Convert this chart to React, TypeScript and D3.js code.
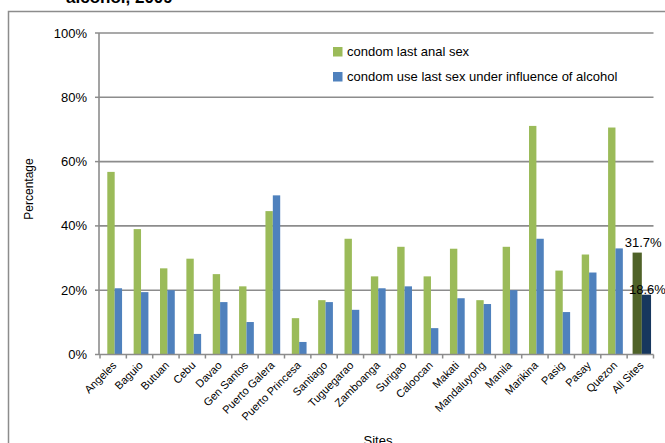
import React from "react";
import * as d3 from "d3";

const sites = ["Angeles","Baguio","Butuan","Cebu","Davao","Gen Santos","Puerto Galera","Puerto Princesa","Santiago","Tuguegarao","Zamboanga","Surigao","Caloocan","Makati","Mandaluyong","Manila","Marikina","Pasig","Pasay","Quezon","All Sites"];
const analSex = [56.8,39.0,26.8,29.8,25.0,21.2,44.6,11.3,16.9,36.0,24.3,33.5,24.3,32.9,16.9,33.5,71.1,26.1,31.1,70.6,31.7];
const alcohol = [20.6,19.4,20.0,6.4,16.3,10.1,49.5,3.9,16.3,13.9,20.6,21.2,8.2,17.5,15.7,20.0,36.0,13.2,25.5,33.0,18.6];
const yTicks = [0,20,40,60,80,100];
const seriesNames = ["condom last anal sex","condom use last sex under influence of alcohol"];
const colors = ["#9bbb59","#4f81bd"];
const totalColors = ["#4f6228","#17375e"];

export default function App() {
  const W = 665, H = 443;
  const x0 = 100, x1 = 653.5;
  const y = d3.scaleLinear().domain([0,100]).range([354.5,33]);
  const x = d3.scaleBand().domain(sites).range([x0,x1]).padding(0);
  const bw = x.bandwidth();
  const font = "Liberation Sans, Arial, sans-serif";
  const grid = "#8c8c8c";
  return (
    <svg width={W} height={H} style={{position:"absolute",left:0,top:0,background:"#fff"}} fontFamily={font}>
      <text x={66} y={3} fontSize={17} fontWeight="bold" fill="#000">alcohol, 2009</text>
      <rect x={8.5} y={11.5} width={700} height={500} fill="none" stroke="#8c8c8c" strokeWidth={1.5}/>
      {yTicks.filter(t=>t>0).map(t=>(
        <line key={t} x1={99} x2={x1} y1={y(t)} y2={y(t)} stroke={grid} strokeWidth={1.6}/>
      ))}
      {yTicks.map(t=>(
        <g key={"yt"+t}>
          <line x1={95} x2={99} y1={y(t)} y2={y(t)} stroke={grid} strokeWidth={1.5}/>
          <text x={87} y={y(t)+4.5} fontSize={13} textAnchor="end" fill="#000">{t}%</text>
        </g>
      ))}
      <text transform={`translate(33,189) rotate(-90)`} fontSize={12} textAnchor="middle" fill="#000">Percentage</text>
      {sites.map((s,i)=>{
        const isTot = s==="All Sites";
        const w = isTot ? bw*0.35 : bw*0.28;
        const cx = (x(s) as number) + bw/2 + 1.5;
        const c = isTot ? totalColors : colors;
        return (
          <g key={s}>
            <rect x={cx-w} y={y(analSex[i])} width={w} height={y(0)-y(analSex[i])} fill={c[0]}/>
            <rect x={cx} y={y(alcohol[i])} width={w} height={y(0)-y(alcohol[i])} fill={c[1]}/>
            {isTot && (
              <>
                <text x={cx-w/2+6} y={247} fontSize={13} textAnchor="middle" fill="#000">{analSex[i].toFixed(1)}%</text>
                <text x={cx+w/2+1} y={294} fontSize={13} textAnchor="middle" fill="#000">{alcohol[i].toFixed(1)}%</text>
              </>
            )}
          </g>
        );
      })}
      <line x1={99} x2={99} y1={y(100)} y2={y(0)} stroke={grid} strokeWidth={1.6}/>
      <line x1={99} x2={x1} y1={y(0)} y2={y(0)} stroke={grid} strokeWidth={1.6}/>
      {d3.range(sites.length+1).map(i=>{
        const tx = x0 + i*bw;
        return <line key={"xt"+i} x1={tx} x2={tx} y1={y(0)} y2={y(0)+4} stroke={grid} strokeWidth={1.5}/>;
      })}
      {sites.map(s=>{
        const cx = (x(s) as number) + bw/2 + 4;
        return <text key={"xl"+s} transform={`translate(${cx},366) rotate(-45)`} fontSize={11} textAnchor="end" fill="#000">{s}</text>;
      })}
      <text x={378} y={445} fontSize={13} textAnchor="middle" fill="#000">Sites</text>
      <g>
        <rect x={336} y={42} width={300} height={50} fill="#fff"/>
        {seriesNames.map((n,i)=>(
          <g key={n}>
            <rect x={333} y={47+i*25} width={9.5} height={9.5} fill={colors[i]}/>
            <text x={347} y={56+i*25} fontSize={13} fill="#000">{n}</text>
          </g>
        ))}
      </g>
    </svg>
  );
}
